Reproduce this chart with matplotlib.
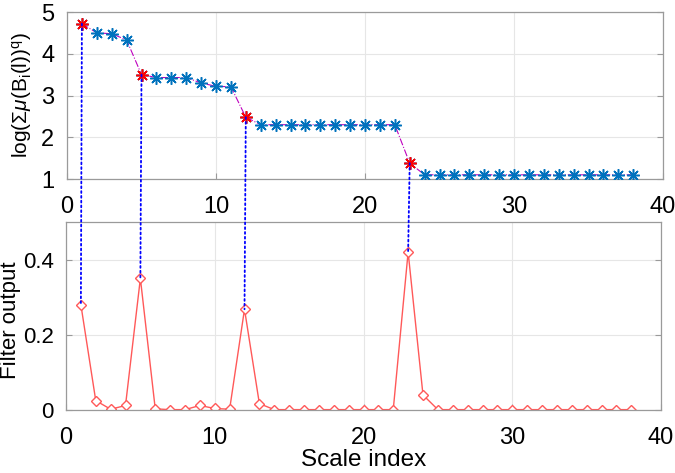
import numpy as np
import matplotlib
matplotlib.use('Agg')
import matplotlib.pyplot as plt
from matplotlib.patches import ConnectionPatch

plt.rcParams['font.family'] = ['Liberation Sans', 'DejaVu Sans']
plt.rcParams['mathtext.fontset'] = 'custom'
plt.rcParams['mathtext.rm'] = 'Liberation Sans'
plt.rcParams['mathtext.it'] = 'Liberation Sans:italic'

scale = np.arange(1, 39)
log_sum = [4.72, 4.50, 4.48, 4.33, 3.50, 3.43, 3.43, 3.43, 3.30, 3.22, 3.21,
           2.48, 2.30, 2.30, 2.30, 2.30, 2.30, 2.30, 2.30, 2.30, 2.30, 2.30,
           1.38] + [1.10] * 15
filt = [0.28, 0.025, 0.002, 0.012, 0.35, 0.003, 0.001, 0.001, 0.012, 0.004,
        0.002, 0.268, 0.017] + [0.001] * 9 + [0.42, 0.04] + [0.001] * 14
peaks = [1, 5, 12, 23]

blue = (0.0, 0.447, 0.741)
pink = (1, 0.35, 0.35)
star = (8, 2, 0)  # matlab style asterisk
fig = plt.figure(figsize=(6.75, 4.73), dpi=100)
ax1 = fig.add_axes([67/675, 1 - 179/473, 596/675, 167/473])
ax2 = fig.add_axes([66/675, 1 - 410/473, 595/675, 188/473])

log_sum = np.array(log_sum)
filt = np.array(filt)
idx = np.array(peaks) - 1

ax1.plot(scale, log_sum, '-.', color='m', lw=0.8, zorder=3)
ax1.plot(scale, log_sum, ls='none', marker=star, ms=9, mew=1.1,
         mec=blue, zorder=3)
ax1.plot(scale[idx], log_sum[idx], ls='none', marker=star, ms=9, mew=1.1,
         mec='r', zorder=4)
ax1.set_xlim(0, 40)
ax1.set_ylim(1, 5)
ax1.set_yticks([1, 2, 3, 4, 5])
ax1.set_ylabel(r'log($\Sigma\mathit{\mu}$(B$_\mathrm{i}$(l))$^\mathrm{q}$)',
               fontsize=15)
ax1.yaxis.set_label_coords(-0.055, 0.5)

ax2.plot(scale, filt, '-', color=pink, lw=1.0, marker='D', ms=5,
         mfc='white', mec=pink, mew=1.0)
ax2.set_xlim(0, 40)
ax2.set_ylim(0, 0.5)
ax2.set_yticks([0, 0.2, 0.4])
ax2.set_yticklabels(['0', '0.2', '0.4'])
ax2.set_ylabel('Filter output', fontsize=16)
ax2.yaxis.set_label_coords(-0.075, 0.48)
ax2.set_xlabel('Scale index', fontsize=17.5)
ax2.xaxis.set_label_coords(0.5, -0.205)

for ax in (ax1, ax2):
    ax.set_xticks([0, 10, 20, 30, 40])
    ax.grid(True, color='#e6e6e6', lw=0.8)
    ax.set_axisbelow(True)
    ax.tick_params(labelsize=17, direction='in', top=False, right=True,
                   length=4, color='#9a9a9a')
    ax.tick_params(axis='x', pad=12)
    ax.tick_params(axis='y', pad=9)
    for s in ax.spines.values():
        s.set_color('#9a9a9a')
        s.set_linewidth(0.9)
ax2.tick_params(axis='y', labelsize=16)

for i in idx:
    con = ConnectionPatch(xyA=(scale[i], log_sum[i]), coordsA=ax1.transData,
                          xyB=(scale[i], filt[i]), coordsB=ax2.transData,
                          color='b', ls=':', lw=1.3, zorder=2)
    fig.add_artist(con)

fig.savefig('out.png', dpi=100)
